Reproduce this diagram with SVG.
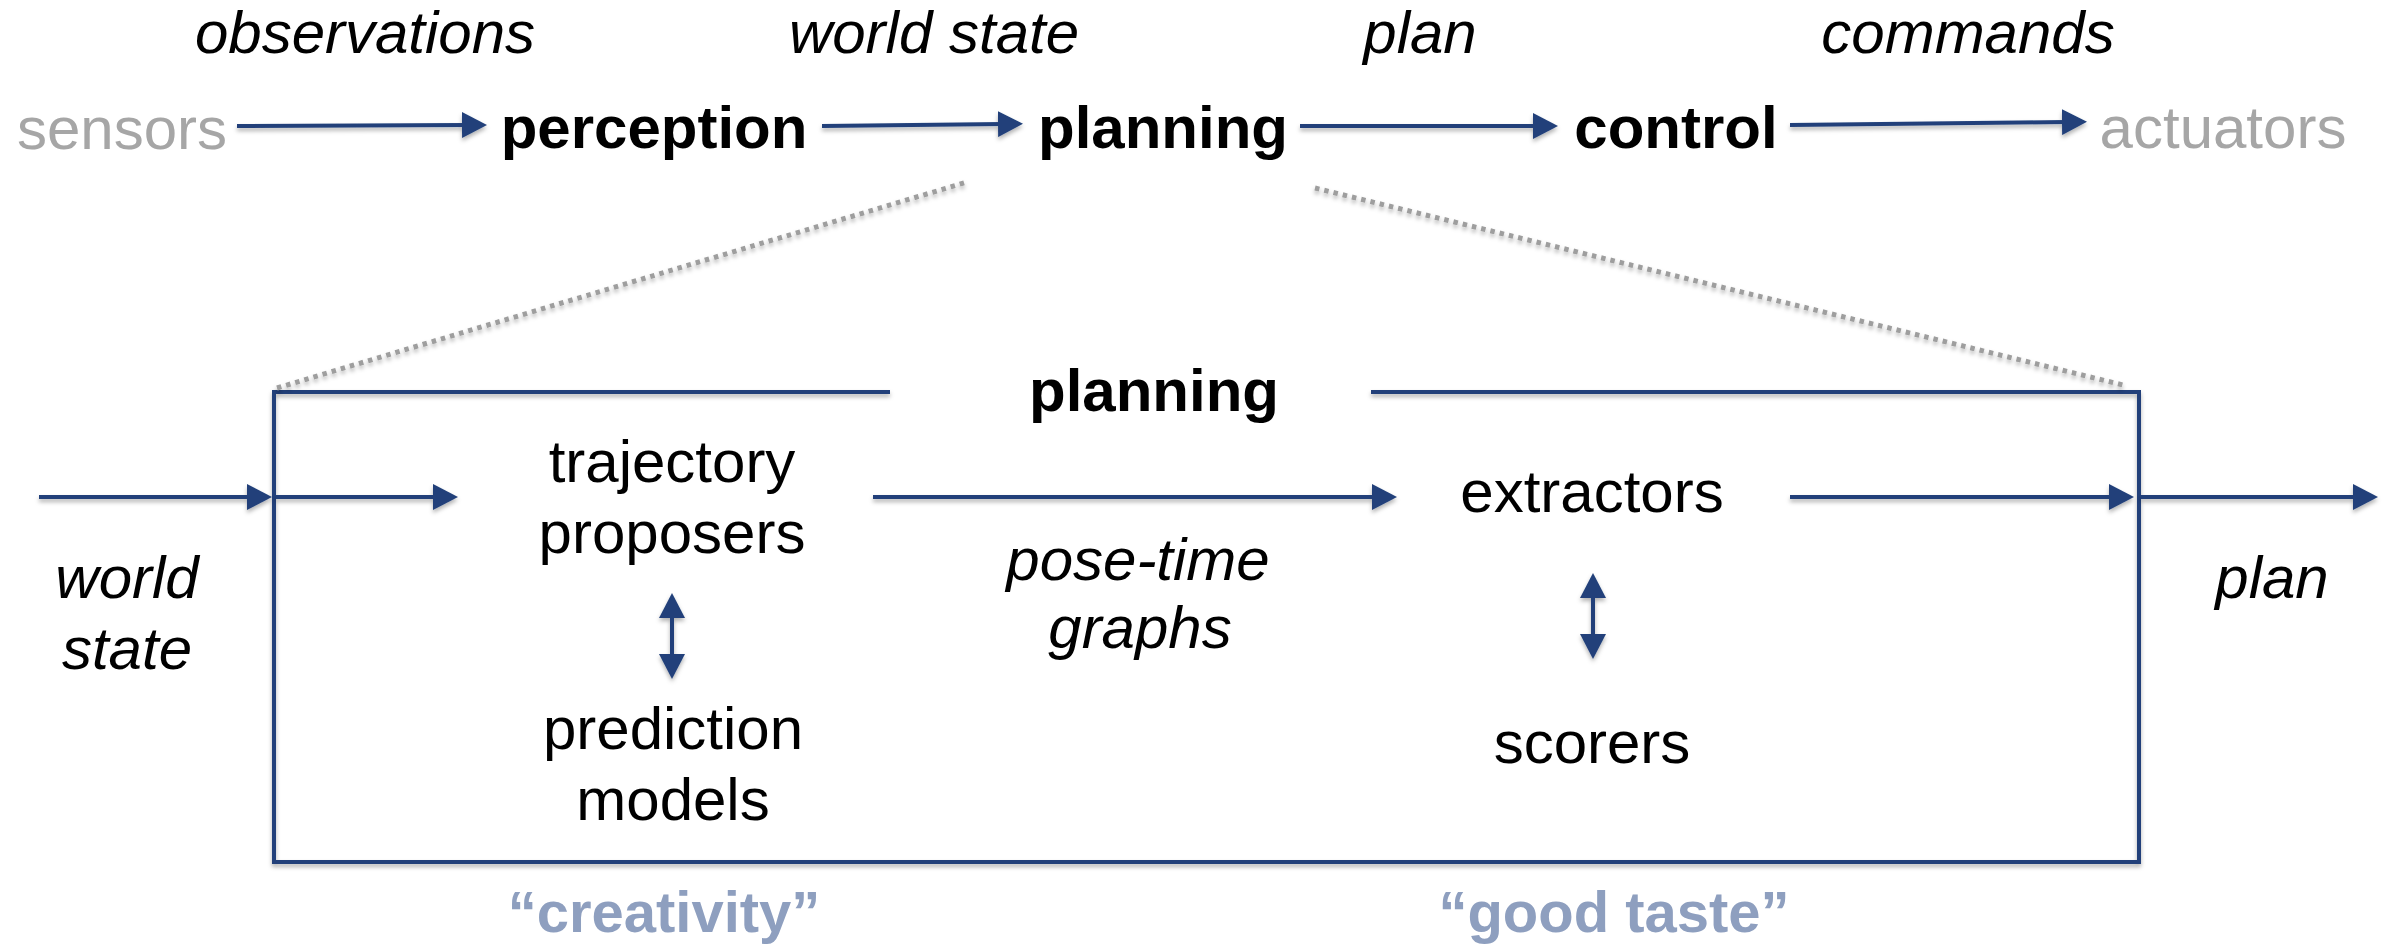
<svg xmlns="http://www.w3.org/2000/svg" width="2395" height="944" viewBox="0 0 2395 944">
  <style>
    text { font-family: "Liberation Sans", Arial, Helvetica, sans-serif; font-size: 60px; text-anchor: middle; fill: #000; }
    .bold { font-weight: bold; }
    .ital { font-style: italic; }
    .gray { fill: #a6a6a6; }
    .note { font-weight: bold; font-size: 58px; fill: #8e9fbf; }
    .flow { fill: none; stroke: #21407a; stroke-width: 4; }
    .flow-end { marker-end: url(#head); }
    .flow-both { marker-start: url(#head); marker-end: url(#head); }
    .frame { fill: none; stroke: #21407a; stroke-width: 4; stroke-linejoin: miter; }
    .zoom { fill: none; stroke: #9e9e9e; stroke-width: 5; stroke-dasharray: 4.5 5; }
  </style>
  <defs>
    <marker id="head" markerUnits="userSpaceOnUse" markerWidth="25" markerHeight="26" viewBox="0 0 25 26" refX="5" refY="13" orient="auto-start-reverse">
      <path d="M0,0 L25,13 L0,26 Z" fill="#21407a"/>
    </marker>
    <filter id="shadow" x="-5%" y="-50%" width="110%" height="200%">
      <feDropShadow dx="0" dy="3" stdDeviation="2" flood-color="#000" flood-opacity="0.3"/>
    </filter>
  </defs>
  <rect width="2395" height="944" fill="#fff"/>

  <!-- top pipeline labels on the arrows -->
  <g id="edge-labels-top">
    <text class="ital" x="365" y="53">observations</text>
    <text class="ital" x="934" y="53">world state</text>
    <text class="ital" x="1420" y="53">plan</text>
    <text class="ital" x="1968" y="53">commands</text>
  </g>

  <!-- top pipeline nodes -->
  <g id="sensors"><text class="gray" x="122" y="149">sensors</text></g>
  <g id="perception"><text class="bold" x="654" y="148">perception</text></g>
  <g id="planning"><text class="bold" x="1163" y="148">planning</text></g>
  <g id="control"><text class="bold" x="1676" y="148">control</text></g>
  <g id="actuators"><text class="gray" x="2223" y="148">actuators</text></g>

  <!-- expanded planning stage -->
  <g id="planning-detail">
    <path class="frame" filter="url(#shadow)" d="M890,392 H274 V862 H2139 V392 H1371"/>
    <text class="bold" x="1154" y="411">planning</text>
  </g>
  <g id="trajectory-proposers">
    <text x="672" y="482">trajectory</text>
    <text x="672" y="553">proposers</text>
  </g>
  <g id="prediction-models">
    <text x="673" y="749">prediction</text>
    <text x="673" y="820">models</text>
  </g>
  <g id="extractors"><text x="1592" y="512">extractors</text></g>
  <g id="scorers"><text x="1592" y="763">scorers</text></g>

  <!-- inner labels -->
  <g id="edge-labels-inner">
    <text class="ital" x="127" y="598">world</text>
    <text class="ital" x="127" y="669">state</text>
    <text class="ital" x="1138" y="580">pose-time</text>
    <text class="ital" x="1140" y="648">graphs</text>
    <text class="ital" x="2272" y="598">plan</text>
  </g>
  <g id="annotations">
    <text class="note" x="664" y="932">“creativity”</text>
    <text class="note" x="1614" y="932">“good taste”</text>
  </g>

  <!-- connectors -->
  <g id="connectors" filter="url(#shadow)">
    <path class="zoom" d="M277,388 L967,182"/>
    <path class="zoom" d="M1315,188 L2127,386"/>

    <path class="flow flow-end" d="M237,126 L467,125"/>
    <path class="flow flow-end" d="M822,126 L1003,124"/>
    <path class="flow flow-end" d="M1300,126 L1538,126"/>
    <path class="flow flow-end" d="M1790,125 L2067,122"/>

    <path class="flow flow-end" d="M39,497 L252,497"/>
    <path class="flow flow-end" d="M276,497 L438,497"/>
    <path class="flow flow-end" d="M873,497 L1377,497"/>
    <path class="flow flow-end" d="M1790,497 L2114,497"/>
    <path class="flow flow-end" d="M2141,497 L2358,497"/>

    <path class="flow flow-both" d="M672,613 L672,659"/>
    <path class="flow flow-both" d="M1593,593 L1593,639"/>
  </g>
</svg>
